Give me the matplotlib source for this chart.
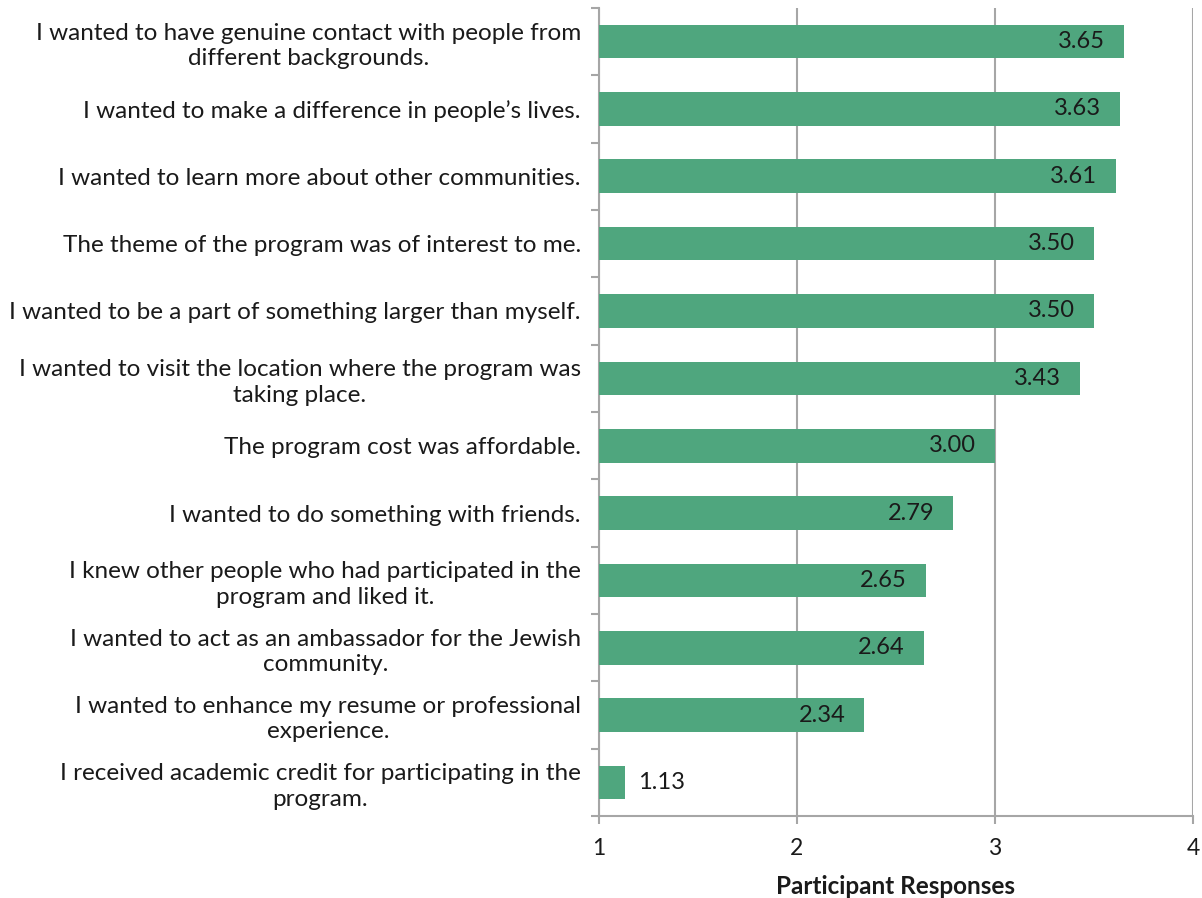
import matplotlib.pyplot as plt
import numpy as np

reasons = [
    "I wanted to have genuine contact with people from\ndifferent backgrounds.",
    "I wanted to make a difference in people\u2019s lives.",
    "I wanted to learn more about other communities.",
    "The theme of the program was of interest to me.",
    "I wanted to be a part of something larger than myself.",
    "I wanted to visit the location where the program was\ntaking place.",
    "The program cost was affordable.",
    "I wanted to do something with friends.",
    "I knew other people who had participated in the\nprogram and liked it.",
    "I wanted to act as an ambassador for the Jewish\ncommunity.",
    "I wanted to enhance my resume or professional\nexperience.",
    "I received academic credit for participating in the\nprogram.",
]
scores = [3.65, 3.63, 3.61, 3.50, 3.50, 3.43, 3.00, 2.79, 2.65, 2.64, 2.34, 1.13]

bar_color = "#4FA67E"
grid_color = "#A6A6A6"
text_color = "#1A1A1A"

plt.rcParams["font.family"] = ["Lato", "DejaVu Sans"]

fig = plt.figure(figsize=(12.02, 8.98), dpi=100)
ax = fig.add_axes([0.4983, 0.0913, 0.4942, 0.8998])

y = np.arange(len(scores))
ax.barh(y, np.array(scores) - 1, left=1, height=0.5, color=bar_color, zorder=3)

ax.set_xlim(1, 4)
ax.set_ylim(len(scores) - 0.5, -0.5)
ax.set_xticks([1, 2, 3, 4])
ax.set_xticklabels(["1", "2", "3", "4"], fontsize=16.5, color=text_color)
ax.xaxis.grid(True, color=grid_color, linewidth=1.5, zorder=0)

ax.set_yticks(y)
ax.set_yticklabels(reasons, fontsize=17.5, color=text_color,
                   ha="right", multialignment="center", linespacing=1.25)
ax.tick_params(axis="y", length=0, pad=13)
# short ticks between the categories
ax.set_yticks(np.arange(-0.5, len(scores), 1), minor=True)
ax.tick_params(axis="y", which="minor", length=6, width=1.5, color=grid_color)
ax.tick_params(axis="x", length=6, width=1.5, color=grid_color, pad=10)

for side in ["top", "right"]:
    ax.spines[side].set_visible(False)
for side in ["left", "bottom"]:
    ax.spines[side].set_color(grid_color)
    ax.spines[side].set_linewidth(1.5)

# value labels: inside the bar end, outside for the short bar
for yi, v in zip(y, scores):
    if v - 1 > 0.5:
        ax.text(v - 0.095, yi, f"{v:.2f}", ha="right", va="center",
                fontsize=17, color=text_color, zorder=4)
    else:
        ax.text(v + 0.065, yi, f"{v:.2f}", ha="left", va="center",
                fontsize=17, color=text_color, zorder=4)

ax.set_xlabel("Participant Responses", fontsize=17.5, fontweight="bold",
              color=text_color, labelpad=11)

fig.savefig("out.png", dpi=100)
